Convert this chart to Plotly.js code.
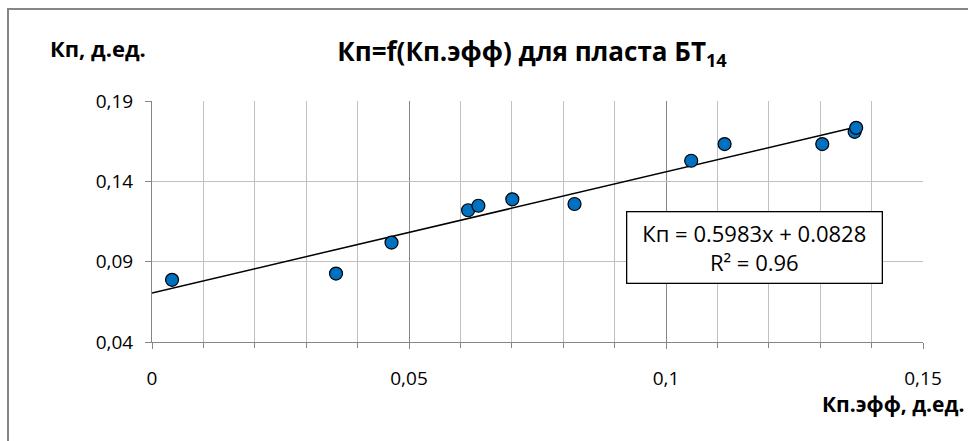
<!DOCTYPE html>
<html>
<head>
<meta charset="utf-8">
<script src="https://cdn.plot.ly/plotly-3.0.1.min.js"></script>
<style>
  html, body { margin: 0; padding: 0; background: #fff; }
  #wrap { position: relative; width: 968px; height: 441px; }
  #chart { position: absolute; left: 0; top: 0; width: 968px; height: 441px; }
  #frame { position: absolute; left: 7px; top: 8px; width: 980px; height: 460px;
           border-left: 2px solid #868686; border-top: 2px solid #868686; pointer-events: none; }
</style>
</head>
<body>
<div id="wrap">
  <div id="chart"></div>
  <div id="frame"></div>
</div>
<script>
// Data
const kpEff = [0.0039, 0.0358, 0.0466, 0.0615, 0.0635, 0.0701, 0.0822, 0.1049, 0.1114, 0.1304, 0.1367, 0.1370];
const kp    = [0.0787, 0.0826, 0.1019, 0.1220, 0.1248, 0.1288, 0.1259, 0.1528, 0.1632, 0.1632, 0.1708, 0.1733];
const equationText = "Кп = 0.5983x + 0.0828<br>R² = 0.96";
const titleText = "<b>Кп=f(Кп.эфф) для пласта БТ<sub>14</sub></b>";
const yTitle = "<b>Кп, д.ед.</b>";
const xTitle = "<b>Кп.эфф, д.ед.</b>";

// Least-squares linear trendline through the data
const n = kpEff.length;
const mx = kpEff.reduce((a, b) => a + b, 0) / n;
const my = kp.reduce((a, b) => a + b, 0) / n;
let sxy = 0, sxx = 0;
for (let i = 0; i < n; i++) { sxy += (kpEff[i] - mx) * (kp[i] - my); sxx += (kpEff[i] - mx) ** 2; }
const slope = sxy / sxx;
const intercept = my - slope * mx;
const xMax = Math.max(...kpEff);
const trendX = [0, xMax];
const trendY = trendX.map(x => intercept + slope * x);

const FONT = "Open Sans, Noto Sans, sans-serif";

const traces = [
  { x: trendX, y: trendY, mode: "lines", type: "scatter",
    line: { color: "#000", width: 1.5 }, hoverinfo: "skip", cliponaxis: false },
  { x: kpEff, y: kp, mode: "markers", type: "scatter",
    marker: { color: "#0070C0", size: 13, line: { color: "#000", width: 1.2 } }, hoverinfo: "skip" }
];

const layout = {
  width: 968, height: 441,
  margin: { l: 152, r: 45, t: 101, b: 99, pad: 0 },
  paper_bgcolor: "#fff", plot_bgcolor: "#fff",
  showlegend: false,
  separators: ", ",
  font: { family: FONT, color: "#000" },
  title: { text: titleText, font: { family: FONT, size: 26, color: "#000" },
           xref: "container", x: 532 / 968, xanchor: "center",
           yref: "container", y: 1 - 52 / 441, yanchor: "middle" },
  xaxis: {
    range: [0, 0.15], dtick: 0.05, tick0: 0, tickmode: "linear",
    showgrid: true, gridcolor: "#868686", gridwidth: 1,
    zeroline: false, showline: true, linecolor: "#868686", linewidth: 1,
    ticks: "outside", ticklen: 6, tickcolor: "#868686",
    ticklabelstandoff: 13,
    tickfont: { family: FONT, size: 19, color: "#000" },
    minor: { dtick: 0.01, tick0: 0, showgrid: true, gridcolor: "#c0c0c0", gridwidth: 1,
             ticks: "outside", ticklen: 5, tickcolor: "#868686" },
    fixedrange: true
  },
  yaxis: {
    range: [0.04, 0.19], dtick: 0.05, tick0: 0.04, tickmode: "linear",
    showgrid: true, gridcolor: "#bfbfbf", gridwidth: 1,
    zeroline: false, showline: true, linecolor: "#868686", linewidth: 1,
    ticks: "outside", ticklen: 6, tickcolor: "#868686",
    ticklabelstandoff: 8,
    tickfont: { family: FONT, size: 19, color: "#000" },
    fixedrange: true
  },
  annotations: [
    { text: equationText, xref: "paper", yref: "paper",
      x: (754.5 - 152) / 771, y: (342 - 247) / 241, xanchor: "center", yanchor: "middle",
      showarrow: false, align: "center",
      font: { family: FONT, size: 22, color: "#000" },
      bgcolor: "#fff", bordercolor: "#000", borderwidth: 1.3, borderpad: 6, width: 242 },
    { text: yTitle, xref: "paper", yref: "paper",
      x: (98 - 152) / 771, y: (342 - 48) / 241, xanchor: "center", yanchor: "middle",
      showarrow: false, font: { family: FONT, size: 22, color: "#000" } },
    { text: xTitle, xref: "paper", yref: "paper",
      x: (966 - 152) / 771, y: (342 - 404) / 241, xanchor: "right", yanchor: "middle",
      showarrow: false, font: { family: FONT, size: 21, color: "#000" } }
  ]
};

Plotly.newPlot("chart", traces, layout, { staticPlot: true, displayModeBar: false });
</script>
</body>
</html>
